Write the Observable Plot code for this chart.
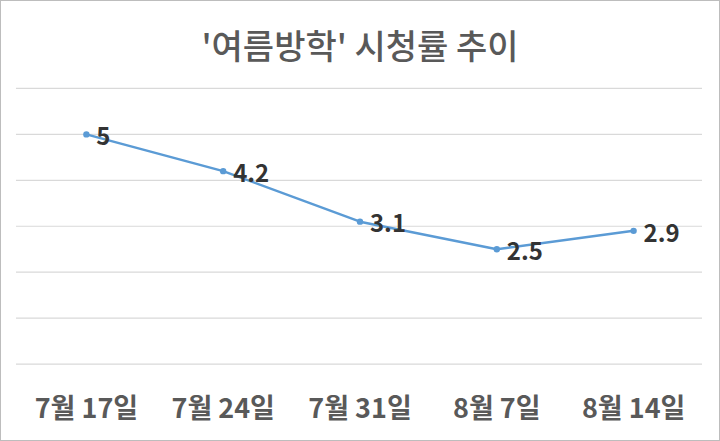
<!DOCTYPE html>
<html><head><meta charset="utf-8">
<script src="https://cdn.jsdelivr.net/npm/d3@7"></script>
<script src="https://cdn.jsdelivr.net/npm/@observablehq/plot@0.6"></script>
<style>
html,body{margin:0;padding:0;background:#fff;}
#wrap{position:relative;width:720px;height:441px;box-sizing:border-box;border:1px solid #bdbdbd;overflow:hidden;background:#fff;}
#title{position:absolute;left:0;top:0;width:718px;height:86px;display:flex;align-items:center;justify-content:center;font-family:"Noto Sans CJK KR",sans-serif;font-size:34px;font-weight:500;color:#595959;}
#chart{position:absolute;left:-1px;top:59px;}
</style></head>
<body>
<div id="wrap"><div id="title">'여름방학' 시청률 추이</div><div id="chart"></div></div>
<script>
const dates = ["7월 17일","7월 24일","7월 31일","8월 7일","8월 14일"];
const ratings = [5, 4.2, 3.1, 2.5, 2.9];
const yTicks = [0,1,2,3,4,5,6];
const data = dates.map((d,i)=>({date:d, value:ratings[i]}));
const plot = Plot.plot({
  width:720, height:381,
  marginTop:28, marginBottom:77, marginLeft:16, marginRight:17,
  x:{type:"point", domain:dates, padding:0.5, label:null},
  y:{domain:[0,6], axis:null},
  style:{fontFamily:"'Noto Sans CJK KR', sans-serif", background:"transparent"},
  marks:[
    Plot.ruleY(yTicks, {stroke:"#d9d9d9", strokeWidth:1.2}),
    Plot.axisX({tickSize:0, tickPadding:35, fontSize:27, fontWeight:"bold", fill:"#595959", label:null}),
    Plot.line(data, {x:"date", y:"value", stroke:"#5b9bd5", strokeWidth:2.5}),
    Plot.dot(data, {x:"date", y:"value", r:3.2, fill:"#5b9bd5", stroke:"none"}),
    Plot.text(data, {x:"date", y:"value", text:d=>String(d.value), textAnchor:"start", dx:10, dy:3, fontSize:24, fontWeight:"bold", fill:"#333333"})
  ]
});
document.getElementById("chart").appendChild(plot);
</script>
</body></html>
